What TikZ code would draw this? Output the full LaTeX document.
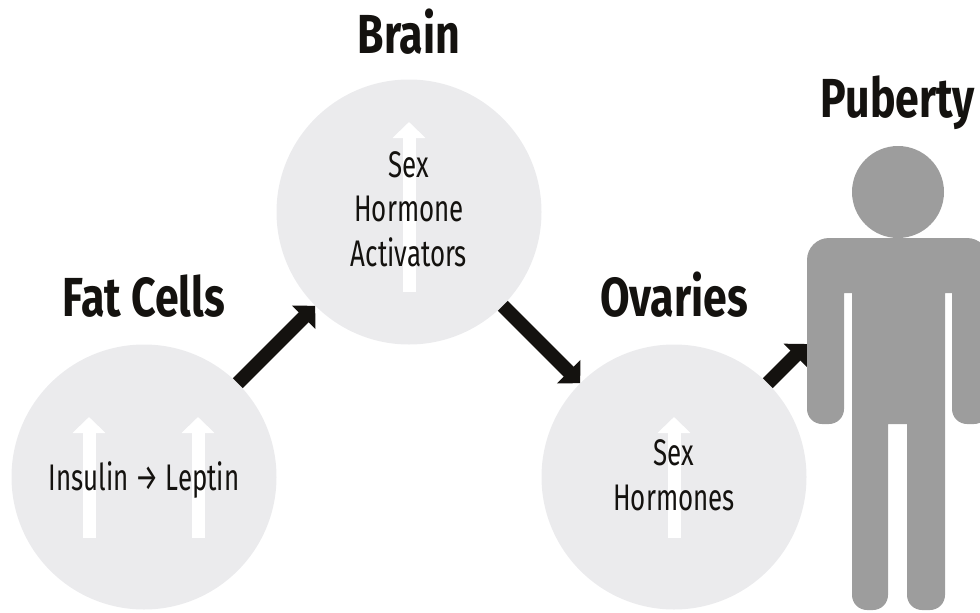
\documentclass[tikz,border=0pt]{standalone}
\usepackage{fontspec}
\setmainfont{Fira Sans}
\newfontfamily\headfont[FakeStretch=0.78]{Fira Sans Bold}
\newfontfamily\bodyfont[FakeStretch=0.70]{Fira Sans}
\usetikzlibrary{arrows.meta,positioning}
\definecolor{circlegray}{HTML}{EBEBED}
\definecolor{persongray}{HTML}{9D9D9D}
\definecolor{inkblack}{HTML}{14120F}

\begin{document}
\begin{tikzpicture}[
  x=1pt, y=-1pt,
  stage/.style={circle, fill=circlegray, inner sep=0pt, minimum size=265pt},
  title/.style={font=\headfont\fontsize{55}{55}\selectfont, text=inkblack, inner sep=0pt, text depth=0pt},
  note/.style={font=\bodyfont\fontsize{37}{44.5}\selectfont, text=inkblack, align=center, inner sep=0pt},
  link/.style={-{Triangle[length=16.3pt,width=32.5pt]}, line width=14pt, inkblack},
  rise/.style={-{Triangle[length=16pt,width=32pt]}, line width=13pt, white}
]
\clip (0,0) rectangle (980,613);

\node[stage] (fat) at (144,477) {};
\node[stage] (brain) at (409,212) {};
\node[stage] (ovaries) at (674,477) {};
\node[circle, fill=persongray, inner sep=0pt, minimum size=92pt] (head) at (898,192) {};
\coordinate (arm) at (807,344);

\draw[rise] (89,538) -- (89,417);
\draw[rise] (198,538) -- (198,417);
\draw[rise] (409,292) -- (409,122);
\draw[rise] (674,538) -- (674,417);

\node[note, yshift=-3pt] (insulin) at (fat) {Insulin → Leptin};
\node[note, yshift=3pt] (activators) at (brain) {Sex\\Hormone\\Activators};
\node[note, yshift=2pt] (hormones) at (ovaries) {Sex\\Hormones};

\node[title, above=28pt of fat] (fatlabel) {Fat Cells};
\node[title, above=26pt of brain] (brainlabel) {Brain};
\node[title, above=28pt of ovaries] (ovarieslabel) {Ovaries};
\node[title, above=28pt of head] (pubertylabel) {Puberty};

\draw[link] (fat.45) -- (brain.-135);
\draw[link] (brain.-45) -- (ovaries.135);
\draw[link] (ovaries.45) -- (arm);

% body, right arm runs off the page
\fill[persongray] [rounded corners=22pt] (807,300) -- (807,238) -- (989,238) -- (989,300)
  [rounded corners=15pt] -- (989,424) -- (952,424) [sharp corners] -- (952,293) -- (945,293)
  [rounded corners=15pt] -- (945,610) -- (907,610) [sharp corners] -- (907,424) -- (888,424)
  [rounded corners=15pt] -- (888,610) -- (852,610) [sharp corners] -- (852,293) -- (844,293)
  [rounded corners=15pt] -- (844,424) -- (807,424) -- cycle;
\end{tikzpicture}
\end{document}
